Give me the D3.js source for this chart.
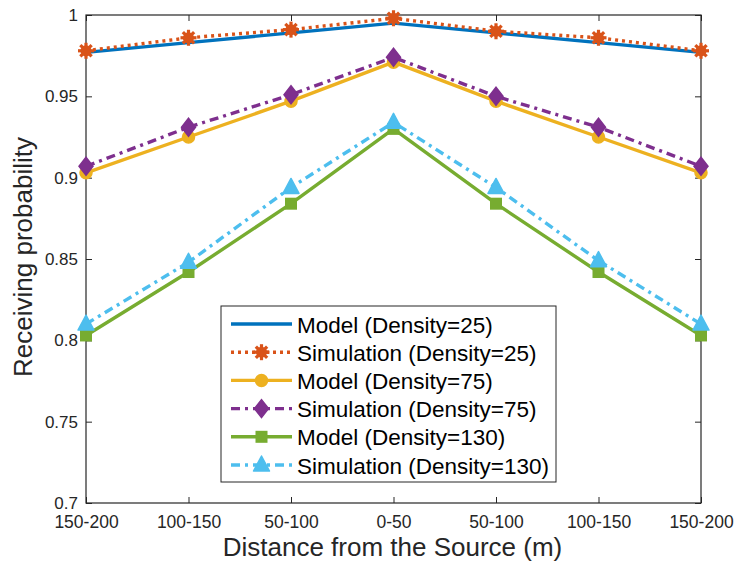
<!DOCTYPE html>
<html><head><meta charset="utf-8">
<script src="https://cdn.jsdelivr.net/npm/d3@7"></script>
<style>body{margin:0;background:#fff}svg{display:block;font-family:"Liberation Sans",Arial,sans-serif}</style>
</head><body><svg id="c" width="736" height="565"></svg>
<script>
const categories = ["150-200","100-150","50-100","0-50","50-100","100-150","150-200"];
const model25 = [0.977,0.983,0.989,0.995,0.989,0.983,0.977];
const sim25   = [0.978,0.986,0.991,0.998,0.990,0.986,0.978];
const model75 = [0.903,0.925,0.947,0.971,0.947,0.925,0.903];
const sim75   = [0.907,0.931,0.951,0.974,0.950,0.931,0.907];
const model130= [0.803,0.842,0.884,0.930,0.884,0.842,0.803];
const sim130  = [0.810,0.848,0.894,0.934,0.894,0.849,0.810];
const yTicks = [0.7,0.75,0.8,0.85,0.9,0.95,1];
const seriesNames = ["Model (Density=25)","Simulation (Density=25)","Model (Density=75)","Simulation (Density=75)","Model (Density=130)","Simulation (Density=130)"];
const colors = ["#0072BD","#D95319","#EDB120","#7E2F8E","#77AC30","#4DBEEE"];
const dashes = [null,"3,4","","9,5,3,5","","9,5,3,5"];
const markers = [null,"star","circle","diamond","square","triangle"];
const series = [model25,sim25,model75,sim75,model130,sim130];

const svg = d3.select("#c");
const L=86,R=701,T=15,B=503;
const x = d3.scalePoint().domain(d3.range(categories.length)).range([L,R]);
const y = d3.scaleLinear().domain([0.7,1]).range([B,T]);
const axCol="#262626";

const g = svg.append("g");
const xb = g.append("g").attr("transform",`translate(0,${B})`).call(d3.axisBottom(x).tickSizeInner(-6).tickSizeOuter(0).tickPadding(0).tickFormat(i=>categories[i]));
xb.selectAll("text").attr("dy",null).attr("y",25);
g.append("g").attr("transform",`translate(0,${T})`).call(d3.axisTop(x).tickSizeInner(-6).tickSizeOuter(0).tickFormat(""));
const yl = g.append("g").attr("transform",`translate(${L},0)`).call(d3.axisLeft(y).tickValues(yTicks).tickSizeInner(-6).tickSizeOuter(0).tickPadding(8).tickFormat(d=>String(+d.toFixed(2))));
g.append("g").attr("transform",`translate(${R},0)`).call(d3.axisRight(y).tickValues(yTicks).tickSizeInner(-6).tickSizeOuter(0).tickFormat(""));
g.selectAll(".domain").remove();
g.selectAll("line").attr("stroke",axCol);
g.selectAll("text").attr("fill",axCol).style("font-family","Liberation Sans, Arial, sans-serif");
xb.selectAll("text").style("font-size","17.5px");
yl.selectAll("text").style("font-size","17px");
svg.append("rect").attr("x",L).attr("y",T).attr("width",R-L).attr("height",B-T).attr("fill","none").attr("stroke",axCol).attr("stroke-width",1.2);

function drawMarker(sel,type,cx,cy,col){
  if(type==="circle") sel.append("circle").attr("cx",cx).attr("cy",cy).attr("r",6).attr("fill",col).attr("stroke",col).attr("stroke-width",1.5);
  else if(type==="diamond") sel.append("path").attr("d",`M${cx},${cy-9}L${cx+7},${cy}L${cx},${cy+9}L${cx-7},${cy}Z`).attr("fill",col).attr("stroke",col).attr("stroke-width",1.5);
  else if(type==="square") sel.append("rect").attr("x",cx-6).attr("y",cy-6).attr("width",12).attr("height",12).attr("fill",col);
  else if(type==="triangle") sel.append("path").attr("d",`M${cx},${cy-9}L${cx+8},${cy+6}L${cx-8},${cy+6}Z`).attr("fill",col).attr("stroke",col).attr("stroke-width",1.5).attr("stroke-linejoin","round");
  else if(type==="star"){
    const gg=sel.append("g").attr("stroke",col).attr("stroke-width",3.2);
    for(let k=0;k<4;k++){const a=k*Math.PI/4;gg.append("line").attr("x1",cx-8*Math.cos(a)).attr("y1",cy-8*Math.sin(a)).attr("x2",cx+8*Math.cos(a)).attr("y2",cy+8*Math.sin(a));}
    sel.append("circle").attr("cx",cx).attr("cy",cy).attr("r",5.5).attr("fill",col);
  }
}

const line = d3.line().x((d,i)=>x(i)).y(d=>y(d));
const plot = svg.append("g");
series.forEach((vals,k)=>{
  plot.append("path").datum(vals).attr("d",line).attr("fill","none").attr("stroke",colors[k]).attr("stroke-width",3.4)
    .attr("stroke-dasharray",dashes[k]||null);
  if(markers[k]) vals.forEach((v,i)=>drawMarker(plot,markers[k],x(i),y(v),colors[k]));
});

const lg = svg.append("g");
lg.append("rect").attr("x",221).attr("y",306).attr("width",335).attr("height",176).attr("fill","#fff").attr("stroke",axCol).attr("stroke-width",1);
seriesNames.forEach((n,k)=>{
  const yy=324+k*28.2;
  lg.append("line").attr("x1",231).attr("x2",292).attr("y1",yy).attr("y2",yy).attr("stroke",colors[k]).attr("stroke-width",3.4).attr("stroke-dasharray",dashes[k]||null);
  if(markers[k]) drawMarker(lg,markers[k],261.5,yy,colors[k]);
  lg.append("text").attr("x",297).attr("y",yy+8.5).text(n).style("font-size","22.5px").attr("fill","#000");
});

svg.append("text").attr("x",392.5).attr("y",555.5).attr("text-anchor","middle").style("font-size","26px").attr("fill",axCol).text("Distance from the Source (m)");
svg.append("text").attr("transform",`translate(32,257) rotate(-90)`).attr("text-anchor","middle").style("font-size","26px").attr("fill",axCol).text("Receiving probability");
</script></body></html>
